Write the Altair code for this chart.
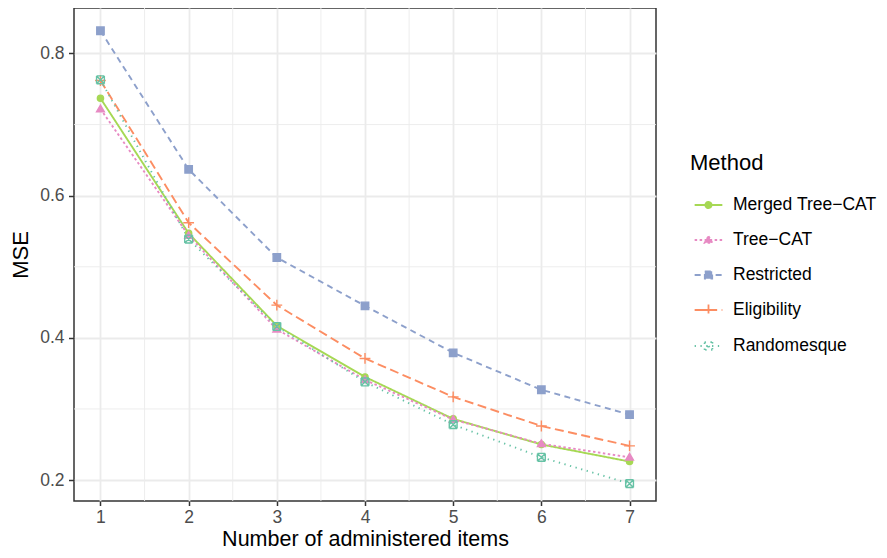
import altair as alt
import pandas as pd

# ---------------- data ----------------
items = [1, 2, 3, 4, 5, 6, 7]
methods = ["Merged Tree\u2212CAT", "Tree\u2212CAT", "Restricted", "Eligibility", "Randomesque"]
mse_merged = [0.737, 0.547, 0.417, 0.345, 0.286, 0.250, 0.226]
mse_treecat = [0.722, 0.544, 0.412, 0.341, 0.285, 0.251, 0.232]
mse_restricted = [0.832, 0.637, 0.513, 0.445, 0.379, 0.327, 0.292]
mse_eligibility = [0.762, 0.562, 0.446, 0.371, 0.317, 0.276, 0.248]
mse_randomesque = [0.763, 0.539, 0.416, 0.338, 0.278, 0.232, 0.195]
y_ticks = [0.2, 0.4, 0.6, 0.8]
x_minor = [1.5, 2.5, 3.5, 4.5, 5.5, 6.5]
y_minor = [0.3, 0.5, 0.7]

series = [mse_merged, mse_treecat, mse_restricted, mse_eligibility, mse_randomesque]

# ---------------- styles ----------------
colors = ["#A6D854", "#E78AC3", "#8DA0CB", "#FC8D62", "#66C2A5"]
dashes = [[1, 0], [2.5, 2.5], [6, 4.5], [9, 4.5], [1.3, 4.5]]
marker_kinds = ["circle", "triangle", "square", "plus", "squarex"]
FONT = "Liberation Sans"


def f(v):
    return f"{v:.3f}"


def marker_path(kind, u):
    if kind == "circle":
        r = 3.1 / u
        return f"M{f(r)},0A{f(r)},{f(r)},0,1,1,{f(-r)},0A{f(r)},{f(r)},0,1,1,{f(r)},0Z"
    if kind == "triangle":
        w, t, b = 3.9 / u, 3.9 / u, 2.8 / u
        return f"M0,{f(-t)}L{f(w)},{f(b)}L{f(-w)},{f(b)}Z"
    if kind == "square":
        h = 3.7 / u
        return f"M{f(-h)},{f(-h)}H{f(h)}V{f(h)}H{f(-h)}Z"
    if kind == "plus":
        h = 5.4 / u
        return f"M{f(-h)},0H{f(h)}M0,{f(-h)}V{f(h)}"
    h = 3.9 / u
    return (f"M{f(-h)},{f(-h)}L{f(h)},{f(-h)}M{f(h)},{f(-h)}L{f(h)},{f(h)}"
            f"M{f(h)},{f(h)}L{f(-h)},{f(h)}M{f(-h)},{f(h)}L{f(-h)},{f(-h)}"
            f"M{f(-h)},{f(-h)}L{f(h)},{f(h)}M{f(h)},{f(-h)}L{f(-h)},{f(h)}")


def dash_path(pattern, half_len, u):
    if pattern[1] == 0:
        return f"M{f(-half_len / u)},0L{f(half_len / u)},0"
    out, pos, i, on = [], -half_len, 0, True
    while pos < half_len:
        ln = pattern[i % len(pattern)]
        end = min(pos + ln, half_len)
        if on:
            out.append(f"M{f(pos / u)},0L{f(end / u)},0")
        pos = end
        on = not on
        i += 1
    return "".join(out)


PT_SIZE = 144                      # plot markers: unit = 6 px
pt_unit = (PT_SIZE ** 0.5) / 2
LEG_SIZE = 1197                    # legend key ~34.6 px
leg_unit = (LEG_SIZE ** 0.5) / 2

plot_shapes = {m: marker_path(k, pt_unit) for m, k in zip(methods, marker_kinds)}
legend_shapes = [dash_path(d, 13.85, leg_unit) + marker_path(k, leg_unit)
                 for d, k in zip(dashes, marker_kinds)]

rows = []
for m, vals in zip(methods, series):
    for x, v in zip(items, vals):
        rows.append({"method": m, "item": x, "mse": v, "pshape": plot_shapes[m]})
df = pd.DataFrame(rows)

# ---------------- scales / axes ----------------
xscale = alt.Scale(domain=[0.7, 7.3], nice=False, zero=False)
yscale = alt.Scale(domain=[0.1705, 0.864], nice=False, zero=False)
color_scale = alt.Scale(domain=methods, range=colors)
dash_scale = alt.Scale(domain=methods, range=dashes)
shape_scale = alt.Scale(domain=methods, range=legend_shapes)

common_axis = dict(grid=True, gridColor="#EBEBEB", gridWidth=1.8, domain=False,
                   ticks=True, tickColor="#333333", tickWidth=1.5,
                   labelFontSize=17.5, labelColor="#4D4D4D",
                   labelFont=FONT, titleFont=FONT,
                   titleFontWeight="normal", titleColor="black")
xaxis = alt.Axis(title="Number of administered items", values=items, tickSize=4.5,
                 labelPadding=2.5, titlePadding=2.5, titleFontSize=21.5, **common_axis)
yaxis = alt.Axis(title="MSE", values=y_ticks, format=".1f", tickSize=5.5,
                 labelPadding=4.4, titlePadding=7, titleFontSize=22, **common_axis)

X = alt.X("item:Q", scale=xscale, axis=xaxis)
Y = alt.Y("mse:Q", scale=yscale, axis=yaxis)

leg = alt.Legend(title="Method", orient="none", legendX=616, legendY=145,
                 titleFontSize=22, titleFont=FONT, titleColor="black",
                 titleFontWeight="normal", titlePadding=11.5, padding=0,
                 labelFontSize=17.5, labelFont=FONT, labelColor="black",
                 labelOffset=6, symbolSize=LEG_SIZE, symbolStrokeWidth=1.8,
                 rowPadding=8.0, symbolOpacity=1)

base = alt.Chart(df)

# legend-only layer (draws no marks; placed first so its legend wins the merge)
legend_layer = base.transform_filter("false").mark_point(
    filled=True, size=LEG_SIZE, strokeWidth=1.8, opacity=1).encode(
    x=X, y=Y,
    fill=alt.Fill("method:N", scale=color_scale, legend=leg),
    stroke=alt.Stroke("method:N", scale=color_scale, legend=leg),
    shape=alt.Shape("method:N", scale=shape_scale, legend=leg),
)

minor_x = alt.Chart(pd.DataFrame({"item": x_minor})).mark_rule(
    color="#EBEBEB", strokeWidth=0.9).encode(x=X)
minor_y = alt.Chart(pd.DataFrame({"mse": y_minor})).mark_rule(
    color="#EBEBEB", strokeWidth=0.9).encode(y=Y)

lines = base.mark_line(strokeWidth=1.9).encode(
    x=X, y=Y,
    stroke=alt.Stroke("method:N", scale=color_scale, legend=None),
    strokeDash=alt.StrokeDash("method:N", scale=dash_scale, legend=None),
)

points = base.mark_point(filled=True, size=PT_SIZE, strokeWidth=1.4, opacity=1).encode(
    x=X, y=Y,
    fill=alt.Fill("method:N", scale=color_scale, legend=None),
    stroke=alt.Stroke("method:N", scale=color_scale, legend=None),
    shape=alt.Shape("pshape:N", scale=None),
)

chart = alt.layer(legend_layer, minor_x, minor_y, lines, points).properties(
    width=582, height=493,
    autosize=alt.AutoSizeParams(type="none"),
    padding={"left": 66, "top": 0, "right": 223, "bottom": 49},
).configure(font=FONT).configure_view(stroke="#333333", strokeWidth=1.5)

chart.save("out.html", embed_options={"renderer": "svg", "actions": False})
